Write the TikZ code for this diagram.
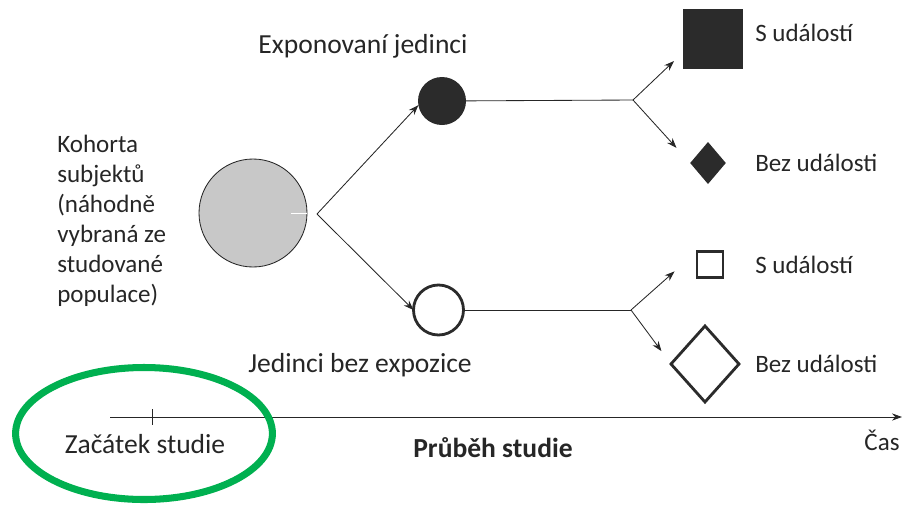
\documentclass[tikz,border=0pt]{standalone}
\usepackage{fontspec}
\setmainfont{Carlito}
\usepackage{tikz}
\usetikzlibrary{shapes.geometric,arrows.meta,calc}
\definecolor{inkgray}{HTML}{262626}
\definecolor{darkfill}{HTML}{2B2B2B}
\definecolor{cohortgray}{HTML}{C8C8C8}
\definecolor{ringgreen}{HTML}{00B050}

\begin{document}
\begin{tikzpicture}[x=0.25mm,y=-0.25mm]
    \tikzstyle{edge}  = [line width=0.6pt,draw=inkgray]
    \tikzstyle{dedge} = [line width=0.6pt,-{Stealth[length=2.5mm,width=1.8mm]},draw=inkgray]
    \tikzstyle{ball}  = [circle,inner sep=0pt,outer sep=0pt]
    \tikzstyle{box}   = [rectangle,inner sep=0pt,outer sep=0pt]
    \tikzstyle{gem}   = [diamond,inner sep=0pt,outer sep=0pt]
    \tikzstyle{txt}   = [text=inkgray,inner sep=0pt,font=\fontsize{17.8}{21.3}\selectfont]
    \tikzstyle{bigtxt}= [txt,font=\fontsize{19.6}{23}\selectfont]
    \tikzstyle{ring}  = [line width=5pt,draw=ringgreen]
    \useasboundingbox (0,0) rectangle (912,506);

    % cohort and the two groups
    \node[ball,fill=cohortgray,draw=inkgray,line width=0.6pt,minimum size=27mm] (nCohort) at (253,213) {};
    \node[ball,fill=darkfill,minimum size=12mm] (nExposed) at (442,101) {};
    \node[ball,fill=white,draw=darkfill,line width=2pt,minimum size=12.5mm] (nUnexposed) at (438.5,310) {};

    % outcomes
    \node[box,fill=darkfill,minimum size=15mm] (nEventA) at (713,38.5) {};
    \node[gem,fill=darkfill,minimum width=8.9mm,minimum height=10.5mm] (nNoEventA) at (708,163) {};
    \node[box,fill=white,draw=darkfill,line width=2pt,minimum size=6.5mm] (nEventB) at (710,264.5) {};
    \node[gem,fill=white,draw=darkfill,line width=2pt,minimum width=17mm,minimum height=19mm] (nNoEventB) at (705,364) {};

    % labels
    \node[txt,align=left,anchor=west] (lCohort) at (57,220.5) {Kohorta\\subjektů\\(náhodně\\vybraná ze\\studované\\populace)};
    \node[bigtxt] (lExposed) at (363,46) {Exponovaní jedinci};
    \node[bigtxt] (lUnexposed) at (360,365) {Jedinci bez expozice};
    \node[txt,anchor=west] (lEventA) at (755,33) {S událostí};
    \node[txt,anchor=west] (lNoEventA) at (755,163) {Bez události};
    \node[txt,anchor=west] (lEventB) at (755,265) {S událostí};
    \node[txt,anchor=west] (lNoEventB) at (755,364) {Bez události};

    % branching
    \coordinate (bCohort) at (317,214);
    \coordinate (bExposed) at (633,100);
    \coordinate (bUnexposed) at (631,310);
    \draw[white,line width=0.6pt] ($(nCohort.east)+(-16,0)$) -- (nCohort.east);
    \draw[dedge] (bCohort)--(nExposed.190);
    \draw[dedge] (bCohort)--(nUnexposed.west);
    \draw[edge] (nExposed)--(bExposed);
    \draw[edge] (nUnexposed)--(bUnexposed);
    \draw[dedge,shorten >=3.1mm] (bExposed)--(nEventA.205);
    \draw[dedge,shorten >=5.1mm] (bExposed)--(nNoEventA.west);
    \draw[dedge,shorten >=7.5mm] (bUnexposed)--(nEventB.north west);
    \draw[dedge,shorten >=4mm] (bUnexposed)--(nNoEventB.west);

    % time axis
    \coordinate (aStart) at (110,417);
    \coordinate (aEnd) at (902,417);
    \coordinate (aTick) at (152,417);
    \draw[dedge] (aStart)--(aEnd);
    \draw[edge] ($(aTick)+(0,-8)$)--($(aTick)+(0,8)$);
    \node[bigtxt] (lStart) at (145,444) {Začátek studie};
    \node[bigtxt,font=\fontsize{19.6}{23}\selectfont\bfseries] (lCourse) at (493,448) {Průběh studie};
    \node[txt] (lTime) at (882,440) {Čas};
    \draw[ring] (144,433.5) ellipse [x radius=32.1mm,y radius=16.5mm];
  \end{tikzpicture}
\end{document}
